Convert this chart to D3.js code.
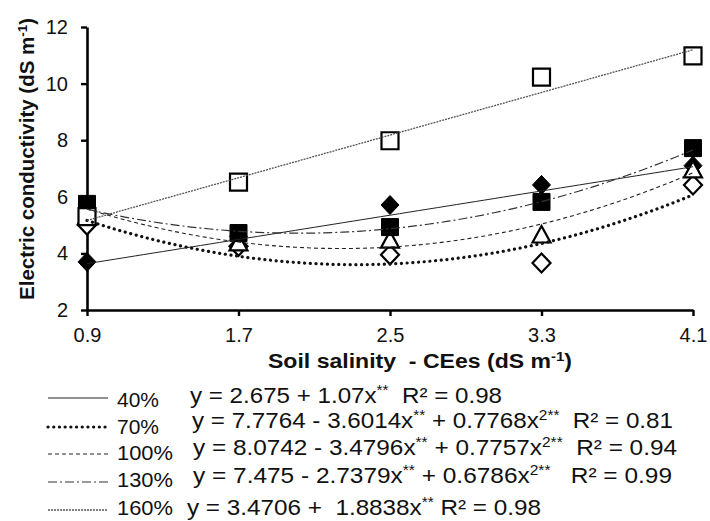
<!DOCTYPE html>
<html>
<head>
<meta charset="utf-8">
<script src="https://cdn.jsdelivr.net/npm/d3@7"></script>
<style>
  body { margin: 0; background: #fff; }
  svg { font-family: "Liberation Sans", Arial, sans-serif; }
  text { white-space: pre; }
</style>
</head>
<body>
<svg id="chart" width="710" height="521"></svg>
<script>
// salinity levels (x)
var salinity = [0.9, 1.7, 2.5, 3.3, 4.1]
var yTicks = [2, 4, 6, 8, 10, 12]

var ec40  = [3.70, 4.60, 5.71, 6.42, 7.10]
var ec70  = [5.00, 4.25, 3.95, 3.66, 6.42]
var ec100 = [5.30, 4.37, 4.47, 4.65, 6.95]
var ec130 = [5.75, 4.72, 4.93, 5.82, 7.72]
var ec160 = [5.30, 6.52, 7.98, 10.23, 10.98]

// regression coefficients [b0, b1, b2] as printed in the legend
var coef40  = [2.675, 1.07, 0]
var coef70  = [7.7764, -3.6014, 0.7768]
var coef100 = [8.0742, -3.4796, 0.7757]
var coef130 = [7.475, -2.7379, 0.6786]
var coef160 = [3.4706, 1.8838, 0]

var labels = ["40%", "70%", "100%", "130%", "160%"]
var eqHead = ["y = 2.675 + 1.07x", "y = 7.7764 - 3.6014x", "y = 8.0742 - 3.4796x", "y = 7.475 - 2.7379x", "y = 3.4706 +  1.8838x"]
var eqMid  = [null, " + 0.7768x", " + 0.7757x", " + 0.6786x", null]
var eqTail = ["  R² = 0.98", "  R² = 0.81", "  R² = 0.94", "   R² = 0.99", " R² = 0.98"]

var series = [
    {values: ec40,  coef: coef40,  marker: "diamond",  fill: "#000", dash: null,       width: 1,   color: "#222", cap: "butt"},
    {values: ec70,  coef: coef70,  marker: "diamond",  fill: "#fff", dash: "0.1,5.6",  width: 3.2, color: "#111", cap: "round"},
    {values: ec100, coef: coef100, marker: "triangle", fill: "#fff", dash: "4,3",      width: 1.1, color: "#222", cap: "butt"},
    {values: ec130, coef: coef130, marker: "square",   fill: "#000", dash: "9,3,2,3",  width: 1.2, color: "#333", cap: "butt"},
    {values: ec160, coef: coef160, marker: "square",   fill: "#fff", dash: "2,1",      width: 1.3, color: "#555", cap: "butt"}
]

var svg = d3.select("#chart")

var x = d3.scaleLinear().domain([0.9, 4.1]).range([87, 693])
var y = d3.scaleLinear().domain([2, 12]).range([310, 27])

//#region AXES
svg.append("g").attr("transform", "translate(87,0)")
    .call(d3.axisLeft(y).tickValues(yTicks).tickSize(6).tickSizeOuter(0).tickPadding(13).tickFormat(d3.format("d")))
svg.append("g").attr("transform", "translate(0,310)")
    .call(d3.axisBottom(x).tickValues(salinity).tickSize(6).tickSizeOuter(0).tickPadding(12).tickFormat(d3.format(".1f")))

svg.selectAll(".domain").attr("stroke", "#000").attr("stroke-width", 2.6)
svg.selectAll(".tick line").attr("stroke", "#000").attr("stroke-width", 2.4)
svg.selectAll(".tick text").attr("font-size", 20).attr("fill", "#111").attr("font-family", "Liberation Sans, Arial, sans-serif")

var yt = svg.append("text").attr("transform", "translate(34,159) rotate(-90)")
    .attr("text-anchor", "middle").attr("font-size", 20).attr("font-weight", "bold").attr("fill", "#111")
    .attr("textLength", 282).attr("lengthAdjust", "spacingAndGlyphs")
yt.append("tspan").text("Electric conductivity (dS m")
yt.append("tspan").attr("dy", -7).attr("font-size", 13).text("-1")
yt.append("tspan").attr("dy", 7).text(")")

var xt = svg.append("text").attr("x", 420).attr("y", 368)
    .attr("text-anchor", "middle").attr("font-size", 20).attr("font-weight", "bold").attr("fill", "#111")
    .attr("textLength", 304).attr("lengthAdjust", "spacingAndGlyphs")
xt.append("tspan").text("Soil salinity  - CEes (dS m")
xt.append("tspan").attr("dy", -7).attr("font-size", 13).text("-1")
xt.append("tspan").attr("dy", 7).text(")")

//#region MARKERS
function markerPath(type){
    if(type == "diamond") return "M0,-9.5L9,0L0,9.5L-9,0Z"
    if(type == "triangle") return "M0,-9L9,7.5L-9,7.5Z"
    return "M-8.5,-8.5H8.5V8.5H-8.5Z"
}

series.forEach(function(s){
    svg.append("g").selectAll("path").data(s.values).join("path")
        .attr("transform", function(d, i){ return "translate(" + x(salinity[i]) + "," + y(d) + ")" })
        .attr("d", markerPath(s.marker))
        .attr("fill", s.fill)
        .attr("stroke", "#000")
        .attr("stroke-width", s.fill == "#000" ? 1 : 2.2)
        .attr("stroke-linejoin", "miter")
})

//#region TRENDLINES
var line = d3.line().x(function(d){ return x(d[0]) }).y(function(d){ return y(d[1]) })
var xs = d3.range(0.9, 4.1001, 0.05)

series.forEach(function(s){
    var pts = xs.map(function(v){ return [v, s.coef[0] + s.coef[1]*v + s.coef[2]*v*v] })
    svg.append("path").datum(pts)
        .attr("d", line)
        .attr("fill", "none")
        .attr("stroke", s.color)
        .attr("stroke-width", s.width)
        .attr("stroke-linecap", s.cap)
        .attr("stroke-dasharray", s.dash)
})

//#region LEGEND
var lineY  = [398, 427, 454, 482, 510]
var labY   = [407, 434, 460, 487, 515]
var eqX    = [190, 192, 193, 193, 187]
var eqY    = [403, 428, 455, 483, 515]
var eqEnd  = [502, 673, 677, 672, 541]

series.forEach(function(s, i){
    svg.append("line").attr("x1", 48).attr("x2", 108).attr("y1", lineY[i]).attr("y2", lineY[i])
        .attr("stroke", s.color).attr("stroke-width", s.width).attr("stroke-linecap", s.cap).attr("stroke-dasharray", s.dash)
    svg.append("text").attr("x", 117).attr("y", labY[i]).attr("font-size", 21).attr("fill", "#111")
        .attr("textLength", i == 0 || i == 1 ? 42 : 56).attr("lengthAdjust", "spacingAndGlyphs").text(labels[i])

    var t = svg.append("text").attr("x", eqX[i]).attr("y", eqY[i]).attr("font-size", 22).attr("fill", "#111")
        .attr("textLength", eqEnd[i] - eqX[i]).attr("lengthAdjust", "spacingAndGlyphs")
    t.append("tspan").text(eqHead[i])
    t.append("tspan").attr("dy", -8).attr("font-size", 14).text("**")
    if(eqMid[i]){
        t.append("tspan").attr("dy", 8).attr("font-size", 22).text(eqMid[i])
        t.append("tspan").attr("dy", -8).attr("font-size", 14).text("2**")
    }
    t.append("tspan").attr("dy", 8).attr("font-size", 22).text(eqTail[i])
})
</script>
</body>
</html>
